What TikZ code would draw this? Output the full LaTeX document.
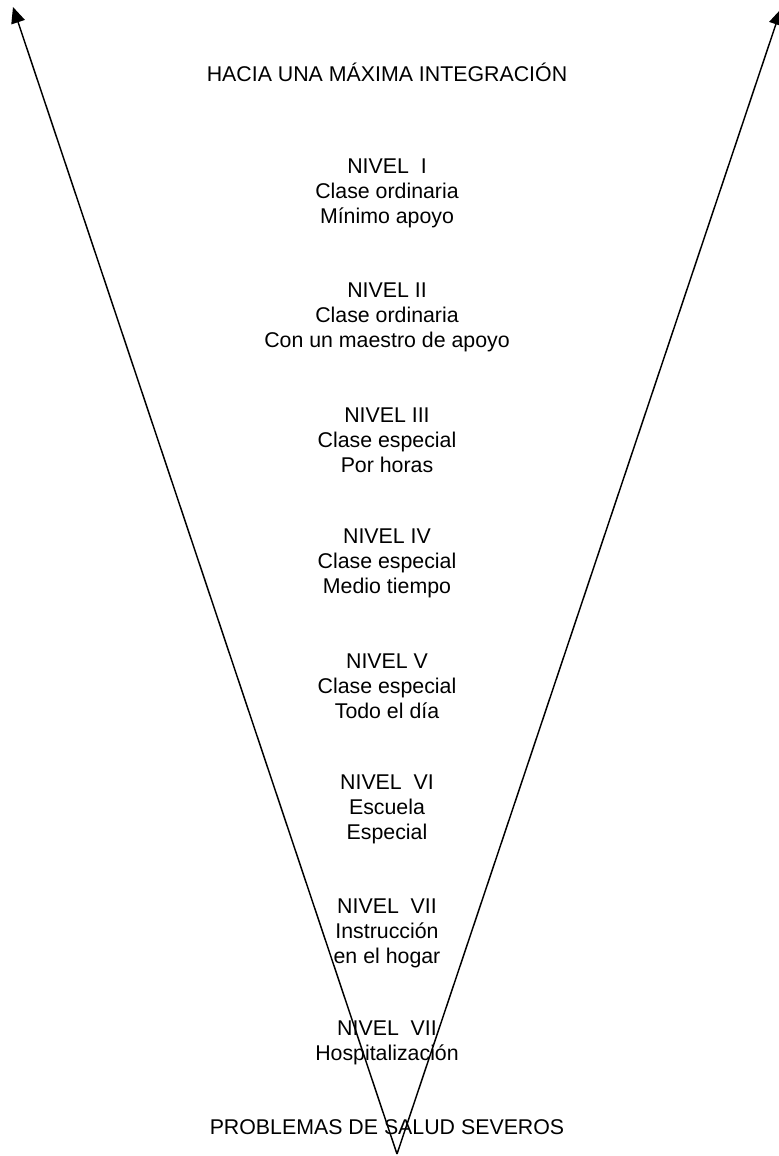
\documentclass[tikz,border=0pt]{standalone}
\usepackage{fontspec}
\setmainfont{Liberation Sans}
\usetikzlibrary{arrows.meta}
\begin{document}
\begin{tikzpicture}[x=0.75pt,y=-0.75pt,
  lbl/.style={align=center,inner sep=0pt,font=\fontsize{16}{18.75}\selectfont},
  vline/.style={line width=1.1pt,-{Triangle[length=12pt,width=10.5pt]}}]
\useasboundingbox (0,0) rectangle (778,1156);
\coordinate (apex) at (397,1154);
\coordinate (tl) at (13,7);
\coordinate (tr) at (781,9);
\draw[vline] (apex) -- (tl);
\draw[vline] (apex) -- (tr);
\node[lbl] (top) at (387,72) {HACIA UNA MÁXIMA INTEGRACIÓN};
\node[lbl] (n1) at (387,193) {NIVEL\ \ I\\Clase ordinaria\\Mínimo apoyo};
\node[lbl] (n2) at (387,317) {NIVEL II\\Clase ordinaria\\Con un maestro de apoyo};
\node[lbl] (n3) at (387,440) {NIVEL III\\Clase especial\\Por horas};
\node[lbl] (n4) at (387,563) {NIVEL IV\\Clase especial\\Medio tiempo};
\node[lbl] (n5) at (387,686) {NIVEL V\\Clase especial\\Todo el día};
\node[lbl] (n6) at (387,809) {NIVEL\ \ VI\\Escuela\\Especial};
\node[lbl] (n7) at (387,933) {NIVEL\ \ VII\\Instrucción\\en el hogar};
\node[lbl] (n8) at (387,1043) {NIVEL\ \ VII\\Hospitalización};
\node[lbl] (bot) at (387,1127) {PROBLEMAS DE SALUD SEVEROS};
\end{tikzpicture}
\end{document}
